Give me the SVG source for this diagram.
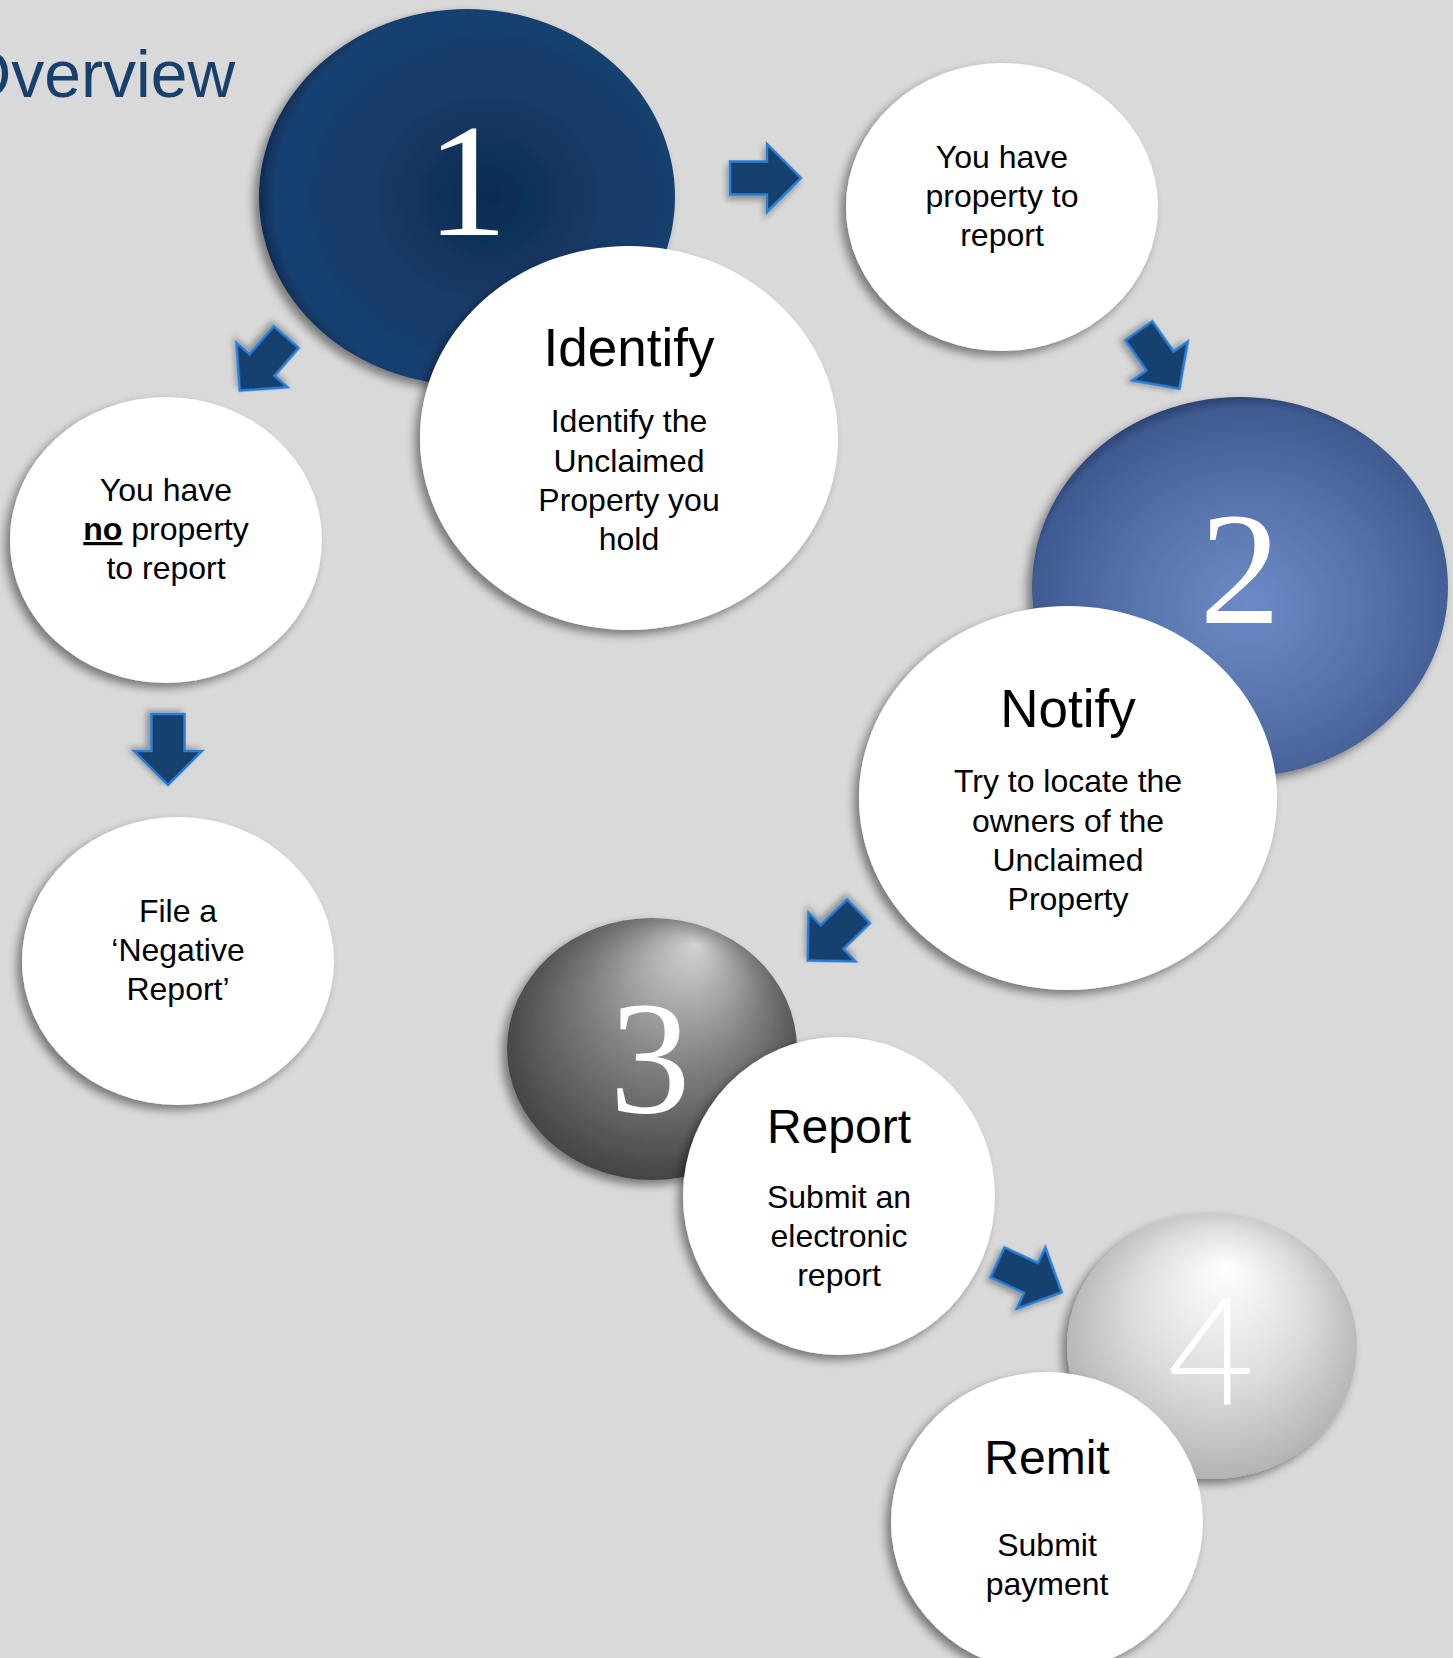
<svg xmlns="http://www.w3.org/2000/svg" width="1453" height="1658" viewBox="0 0 1453 1658">
<defs>
<style>
.bub{fill:#ffffff;filter:url(#sh)}
.t{font-family:"Liberation Sans",Arial,sans-serif;fill:#000;text-anchor:middle}
.h{font-size:53px}
.h2{font-size:48px}
.b{font-size:32px}
.num{font-family:"Liberation Serif","Times New Roman",serif;fill:#fff;text-anchor:middle;font-size:162px}
.arr{fill:#173f6d;stroke:#2a7fd6;stroke-width:2.5;stroke-linejoin:miter;filter:url(#sha)}
</style>
<filter id="sh" x="-20%" y="-20%" width="140%" height="140%">
<feGaussianBlur in="SourceAlpha" stdDeviation="5"/>
<feOffset dx="-5" dy="5" result="o"/>
<feComponentTransfer><feFuncA type="linear" slope="0.45"/></feComponentTransfer>
<feMerge><feMergeNode/><feMergeNode in="SourceGraphic"/></feMerge>
</filter>
<filter id="sha" x="-30%" y="-30%" width="160%" height="160%">
<feGaussianBlur in="SourceAlpha" stdDeviation="3"/>
<feOffset dx="-2" dy="4" result="o"/>
<feComponentTransfer><feFuncA type="linear" slope="0.35"/></feComponentTransfer>
<feMerge><feMergeNode/><feMergeNode in="SourceGraphic"/></feMerge>
</filter>
<radialGradient id="g1" cx="0.55" cy="0.5" r="0.55">
<stop offset="0" stop-color="#0e2b51"/>
<stop offset="0.5" stop-color="#143a66"/>
<stop offset="0.93" stop-color="#184172"/>
<stop offset="1" stop-color="#0f2c52"/>
</radialGradient>
<radialGradient id="g2" cx="0.52" cy="0.55" r="0.55">
<stop offset="0" stop-color="#6c8bc6"/>
<stop offset="0.6" stop-color="#546fa8"/>
<stop offset="0.95" stop-color="#3f5a90"/>
<stop offset="1" stop-color="#2c4575"/>
</radialGradient>
<radialGradient id="g3" cx="0.5" cy="0.5" r="0.6" fx="0.65" fy="0.1">
<stop offset="0" stop-color="#d2d2d2"/>
<stop offset="0.5" stop-color="#7c7c7c"/>
<stop offset="0.9" stop-color="#444444"/>
<stop offset="1" stop-color="#2e2e2e"/>
</radialGradient>
<radialGradient id="g4" cx="0.5" cy="0.5" r="0.6" fx="0.55" fy="0.2">
<stop offset="0" stop-color="#ffffff"/>
<stop offset="0.5" stop-color="#dcdcdc"/>
<stop offset="0.88" stop-color="#b4b4b4"/>
<stop offset="1" stop-color="#7e7e7e"/>
</radialGradient>
<path id="arrow" d="M-37,-16.5 L0,-16.5 L0,-34 L34,0 L0,34 L0,16.5 L-37,16.5 Z"/>
</defs>
<rect width="1453" height="1658" fill="#d9d9d9"/>
<text x="-40" y="97" font-family="Liberation Sans,Arial,sans-serif" font-size="66" fill="#17406d">Overview</text>

<g id="connectors">
<use href="#arrow" class="arr" transform="translate(767,178)"/>
<use href="#arrow" class="arr" transform="translate(1160,361) rotate(55)"/>
<use href="#arrow" class="arr" transform="translate(262,365) rotate(131)"/>
<use href="#arrow" class="arr" transform="translate(168,751) rotate(90)"/>
<use href="#arrow" class="arr" transform="translate(832,937) rotate(136)"/>
<use href="#arrow" class="arr" transform="translate(1031,1278) rotate(25)"/>
</g>

<g id="step1">
<ellipse cx="467" cy="197" rx="208" ry="188" fill="url(#g1)" filter="url(#sh)"/>
<text class="num" x="467" y="235">1</text>
</g>
<g id="identify">
<ellipse class="bub" cx="629" cy="438" rx="209" ry="192"/>
<text class="t h" x="629" y="366">Identify</text>
<text class="t b" x="629" y="432">Identify the</text>
<text class="t b" x="629" y="472">Unclaimed</text>
<text class="t b" x="629" y="511">Property you</text>
<text class="t b" x="629" y="550">hold</text>
</g>
<g id="have-property">
<ellipse class="bub" cx="1002" cy="207" rx="156" ry="144"/>
<text class="t b" x="1002" y="168">You have</text>
<text class="t b" x="1002" y="207">property to</text>
<text class="t b" x="1002" y="246">report</text>
</g>
<g id="no-property">
<ellipse class="bub" cx="166" cy="540" rx="156" ry="143"/>
<text class="t b" x="166" y="501">You have</text>
<text class="t b" x="166" y="540"><tspan font-weight="bold" text-decoration="underline">no</tspan> property</text>
<text class="t b" x="166" y="579">to report</text>
</g>
<g id="negative-report">
<ellipse class="bub" cx="178" cy="961" rx="156" ry="144"/>
<text class="t b" x="178" y="922">File a</text>
<text class="t b" x="178" y="961">‘Negative</text>
<text class="t b" x="178" y="1000">Report’</text>
</g>
<g id="step2">
<ellipse cx="1240" cy="587" rx="208" ry="190" fill="url(#g2)" filter="url(#sh)"/>
<text class="num" x="1240" y="623">2</text>
</g>
<g id="notify">
<ellipse class="bub" cx="1068" cy="798" rx="209" ry="192"/>
<text class="t h" x="1068" y="727">Notify</text>
<text class="t b" x="1068" y="792">Try to locate the</text>
<text class="t b" x="1068" y="832">owners of the</text>
<text class="t b" x="1068" y="871">Unclaimed</text>
<text class="t b" x="1068" y="910">Property</text>
</g>
<g id="step3">
<ellipse cx="652" cy="1049" rx="145" ry="131" fill="url(#g3)" filter="url(#sh)"/>
<text class="num" x="650" y="1112">3</text>
</g>
<g id="report">
<ellipse class="bub" cx="839" cy="1196" rx="156" ry="159"/>
<text class="t h2" x="839" y="1143">Report</text>
<text class="t b" x="839" y="1208">Submit an</text>
<text class="t b" x="839" y="1247">electronic</text>
<text class="t b" x="839" y="1286">report</text>
</g>
<g id="step4">
<ellipse cx="1212" cy="1346" rx="145" ry="133" fill="url(#g4)" filter="url(#sh)"/>
<text x="1211" y="1405" font-family="Lato,'Liberation Sans',sans-serif" font-weight="300" font-size="150" fill="#fff" text-anchor="middle">4</text>
</g>
<g id="remit">
<ellipse class="bub" cx="1047" cy="1522" rx="156" ry="150"/>
<text class="t h2" x="1047" y="1474">Remit</text>
<text class="t b" x="1047" y="1556">Submit</text>
<text class="t b" x="1047" y="1595">payment</text>
</g>
</svg>
